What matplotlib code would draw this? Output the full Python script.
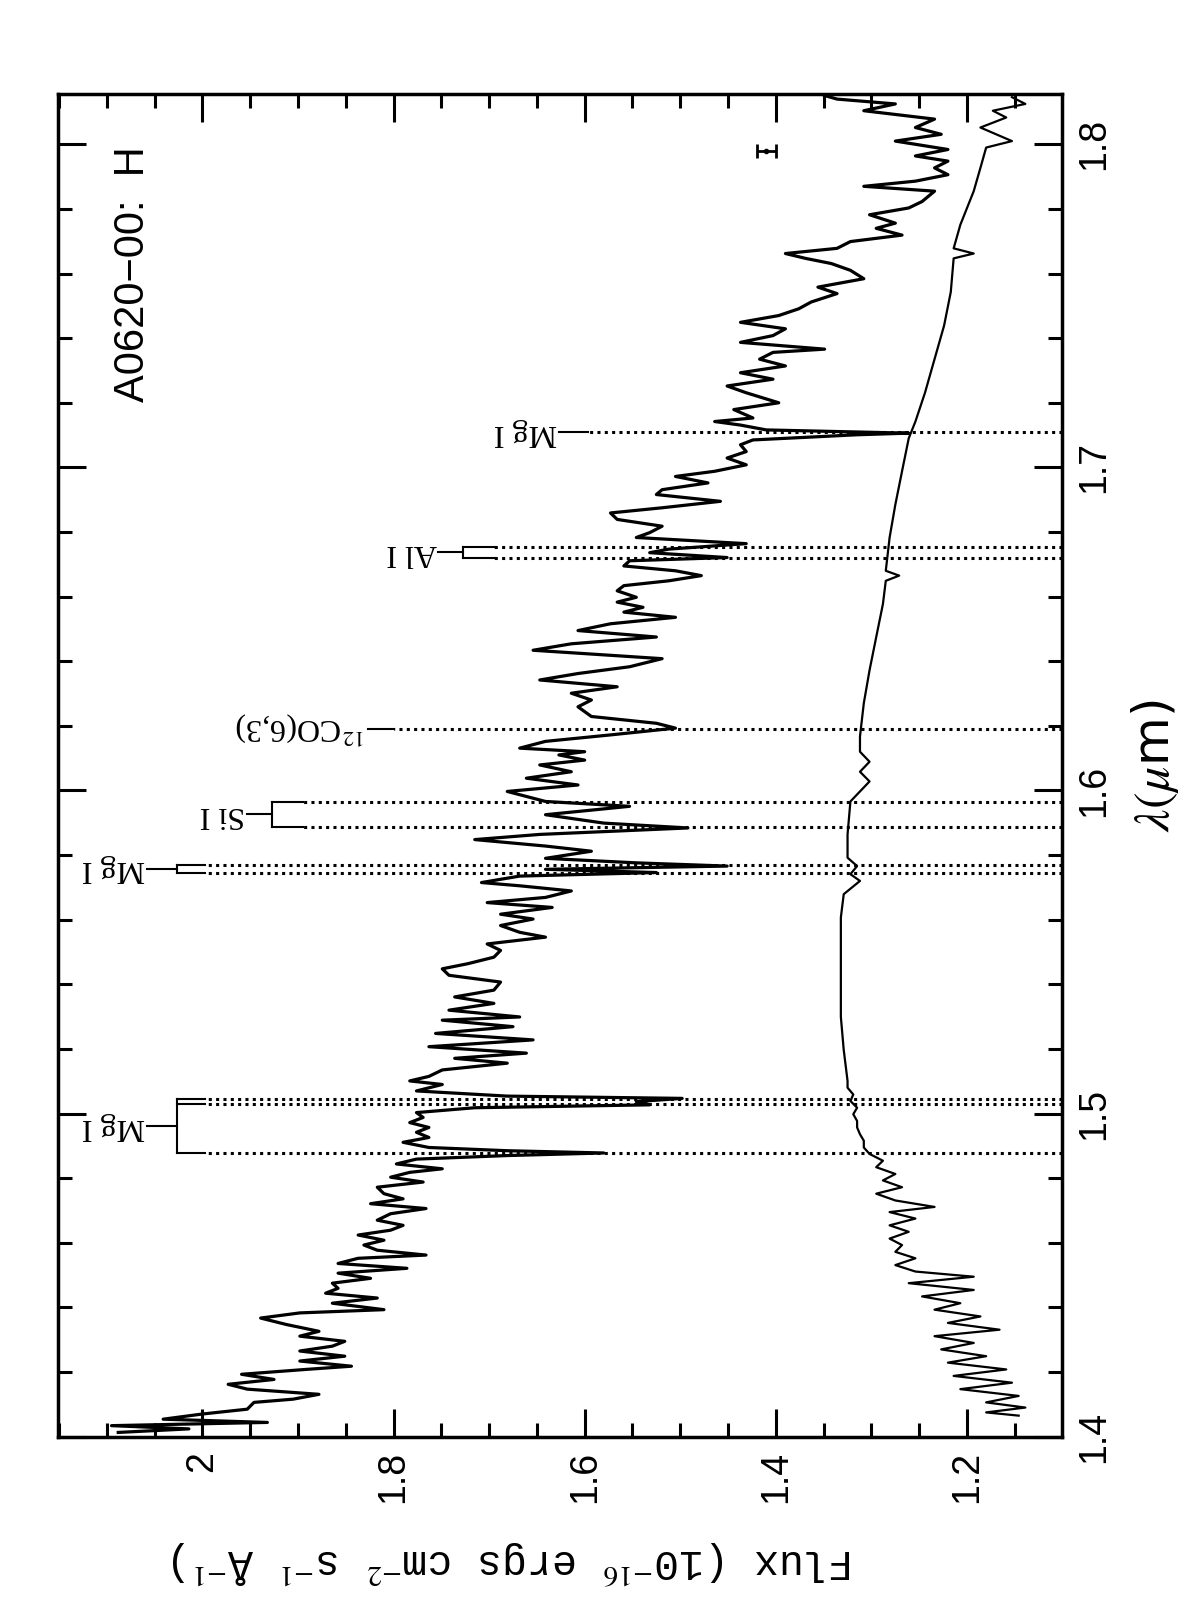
import matplotlib
matplotlib.use("Agg")
import matplotlib.pyplot as plt
from matplotlib.ticker import MultipleLocator

# upper spectrum (wavelength in micron, flux)
wl_hi = [1.4013, 1.4024, 1.4034, 1.4044, 1.4054, 1.4070, 1.4085, 1.4106, 1.4116, 1.4131,
         1.4147, 1.4162, 1.4177, 1.4193, 1.4208, 1.4218, 1.4234, 1.4249, 1.4265, 1.4280,
         1.4295, 1.4311, 1.4326, 1.4347, 1.4367, 1.4383, 1.4393, 1.4413, 1.4429, 1.4444,
         1.4459, 1.4475, 1.4490, 1.4506, 1.4521, 1.4536, 1.4552, 1.4562, 1.4577, 1.4593,
         1.4608, 1.4624, 1.4639, 1.4654, 1.4670, 1.4690, 1.4706, 1.4721, 1.4736, 1.4752,
         1.4772, 1.4788, 1.4803, 1.4818, 1.4829, 1.4844, 1.4859, 1.4870, 1.4878, 1.4885,
         1.4895, 1.4911, 1.4926, 1.4942, 1.4957, 1.4972, 1.4988, 1.5003, 1.5018, 1.5027,
         1.5037, 1.5047, 1.5054, 1.5070, 1.5090, 1.5101,
         1.5115, 1.5135, 1.5156, 1.5171, 1.5187, 1.5207, 1.5228, 1.5248, 1.5269, 1.5289,
         1.5299, 1.5320, 1.5341, 1.5361, 1.5382, 1.5407, 1.5428, 1.5448, 1.5464, 1.5484,
         1.5505, 1.5525, 1.5546, 1.5561, 1.5582, 1.5602, 1.5617, 1.5638, 1.5653, 1.5669,
         1.5689, 1.5705, 1.5715, 1.5735, 1.5746, 1.5756, 1.5766, 1.5776, 1.5790, 1.5812,
         1.5828, 1.5848, 1.5864, 1.5884, 1.5899, 1.5925, 1.5951, 1.5966, 1.5997, 1.6017,
         1.6038, 1.6058, 1.6079, 1.6094, 1.6110, 1.6120,
         1.6131, 1.6152, 1.6172, 1.6193, 1.6208, 1.6229, 1.6259, 1.6280, 1.6301, 1.6321,
         1.6342, 1.6362, 1.6383, 1.6408, 1.6434, 1.6454, 1.6475, 1.6495, 1.6516, 1.6536,
         1.6552, 1.6567, 1.6583, 1.6598, 1.6618, 1.6634, 1.6649, 1.6665, 1.6680, 1.6695,
         1.6711, 1.6721, 1.6736, 1.6747, 1.6764, 1.6783, 1.6798, 1.6818, 1.6839, 1.6859,
         1.6875, 1.6895, 1.6916, 1.6931, 1.6952, 1.6972, 1.6988, 1.7008, 1.7029, 1.7049,
         1.7070, 1.7085, 1.7101, 1.7106, 1.7116, 1.7131, 1.7142,
         1.7153, 1.7179, 1.7200, 1.7231, 1.7252, 1.7273, 1.7293, 1.7314, 1.7335, 1.7356,
         1.7366, 1.7387, 1.7408, 1.7429, 1.7449, 1.7470, 1.7491, 1.7512, 1.7538, 1.7558,
         1.7584, 1.7610, 1.7631, 1.7647, 1.7662, 1.7678, 1.7699, 1.7719, 1.7740, 1.7756,
         1.7782, 1.7803, 1.7823, 1.7855, 1.7870, 1.7886, 1.7906, 1.7927, 1.7948, 1.7964,
         1.7984, 1.8010, 1.8031, 1.8052, 1.8078, 1.8104, 1.8125, 1.8140, 1.8151]
fx_hi = [2.088, 2.014, 2.095, 1.932, 2.041, 2.000, 1.953, 1.946, 1.905, 1.878,
         1.953, 1.973, 1.925, 1.959, 1.892, 1.844, 1.898, 1.851, 1.898, 1.864,
         1.851, 1.898, 1.878, 1.912, 1.939, 1.898, 1.810, 1.864, 1.817, 1.871,
         1.858, 1.864, 1.824, 1.858, 1.786, 1.858, 1.837, 1.766, 1.817, 1.831,
         1.810, 1.837, 1.803, 1.790, 1.817, 1.803, 1.766, 1.824, 1.790, 1.810,
         1.817, 1.769, 1.803, 1.783, 1.749, 1.797, 1.776, 1.681, 1.580, 1.681,
         1.763, 1.790, 1.763, 1.776, 1.763, 1.783, 1.769, 1.776, 1.715, 1.532,
         1.546, 1.498, 1.681, 1.776, 1.749, 1.783,
         1.763, 1.749, 1.681, 1.736, 1.661, 1.763, 1.654, 1.756, 1.675, 1.749,
         1.668, 1.742, 1.695, 1.736, 1.695, 1.688, 1.742, 1.749, 1.722, 1.695,
         1.688, 1.702, 1.641, 1.668, 1.688, 1.654, 1.688, 1.634, 1.702, 1.641,
         1.614, 1.668, 1.708, 1.668, 1.525, 1.641, 1.451, 1.546, 1.641, 1.593,
         1.641, 1.715, 1.647, 1.492, 1.580, 1.641, 1.553, 1.641, 1.681, 1.607,
         1.661, 1.614, 1.647, 1.600, 1.627, 1.600,
         1.668, 1.641, 1.573, 1.505, 1.525, 1.593, 1.607, 1.593, 1.614, 1.566,
         1.647, 1.607, 1.553, 1.519, 1.654, 1.614, 1.525, 1.607, 1.573, 1.505,
         1.559, 1.539, 1.566, 1.546, 1.566, 1.559, 1.512, 1.478, 1.505, 1.559,
         1.553, 1.451, 1.532, 1.512, 1.431, 1.546, 1.532, 1.519, 1.566, 1.573,
         1.519, 1.458, 1.525, 1.519, 1.471, 1.505, 1.464, 1.431, 1.451, 1.431,
         1.437, 1.424, 1.315, 1.261, 1.410, 1.437, 1.464,
         1.424, 1.444, 1.397, 1.431, 1.451, 1.403, 1.437, 1.390, 1.417, 1.403,
         1.349, 1.437, 1.403, 1.390, 1.437, 1.397, 1.376, 1.363, 1.336, 1.356,
         1.308, 1.322, 1.342, 1.369, 1.390, 1.336, 1.322, 1.268, 1.295, 1.275,
         1.302, 1.261, 1.247, 1.234, 1.308, 1.254, 1.220, 1.234, 1.220, 1.254,
         1.220, 1.275, 1.227, 1.254, 1.234, 1.308, 1.275, 1.336, 1.349]

# lower spectrum
wl_lo = [1.4065, 1.4075, 1.4090, 1.4106, 1.4126, 1.4147, 1.4167, 1.4188, 1.4208, 1.4229,
         1.4249, 1.4270, 1.4290, 1.4311, 1.4331, 1.4352, 1.4372, 1.4393, 1.4413, 1.4434,
         1.4454, 1.4475, 1.4495, 1.4511, 1.4531, 1.4552, 1.4572, 1.4593, 1.4613, 1.4634,
         1.4654, 1.4675, 1.4695, 1.4711, 1.4731, 1.4752, 1.4772, 1.4793, 1.4813, 1.4834,
         1.4854, 1.4875, 1.4895, 1.4916, 1.4936, 1.4957, 1.4977, 1.4998, 1.5018, 1.5039,
         1.5059, 1.5080, 1.5101,
         1.5197, 1.5299, 1.5402, 1.5505, 1.5607, 1.5679, 1.5720, 1.5741, 1.5766, 1.5792,
         1.5864, 1.5966, 1.5997, 1.6028, 1.6058, 1.6089, 1.6120,
         1.6167, 1.6270, 1.6372, 1.6475, 1.6577, 1.6649, 1.6665, 1.6680, 1.6783, 1.6885,
         1.6988, 1.7090, 1.7142,
         1.7231, 1.7335, 1.7439, 1.7543, 1.7647, 1.7662, 1.7678, 1.7751, 1.7855, 1.7927,
         1.7990, 1.8010, 1.8052, 1.8083, 1.8104, 1.8125, 1.8146]
fx_lo = [1.146, 1.180, 1.139, 1.180, 1.146, 1.207, 1.153, 1.214, 1.159, 1.220,
         1.180, 1.227, 1.193, 1.234, 1.166, 1.220, 1.186, 1.234, 1.207, 1.247,
         1.193, 1.261, 1.193, 1.254, 1.275, 1.254, 1.275, 1.268, 1.281, 1.261,
         1.281, 1.254, 1.281, 1.234, 1.275, 1.295, 1.268, 1.288, 1.275, 1.295,
         1.288, 1.302, 1.308, 1.308, 1.312, 1.315, 1.315, 1.319, 1.315, 1.322,
         1.319, 1.325, 1.325,
         1.329, 1.332, 1.332, 1.332, 1.332, 1.329, 1.312, 1.322, 1.315, 1.325,
         1.325, 1.322, 1.312, 1.302, 1.312, 1.302, 1.312,
         1.312, 1.308, 1.302, 1.295, 1.288, 1.285, 1.271, 1.285, 1.281, 1.275,
         1.268, 1.261, 1.254,
         1.244, 1.234, 1.224, 1.217, 1.214, 1.193, 1.214, 1.207, 1.193, 1.186,
         1.180, 1.153, 1.186, 1.159, 1.173, 1.139, 1.153]

# identified lines
line_labels = ["Mg I", "Mg I", "Si I", r"$^{12}$CO(6,3)", "Al I", "Mg I"]
line_waves = [[1.4877, 1.5029, 1.5044], [1.5745, 1.5770], [1.5888, 1.5964],
              [1.6189], [1.6719, 1.6755], [1.7109]]

plt.rcParams["mathtext.fontset"] = "stix"

fig = plt.figure(figsize=(11.96, 16), dpi=100)
ax = fig.add_axes([0.0485, 0.1019, 0.8395, 0.8394])

ax.plot(fx_hi, wl_hi, color="black", lw=2.3)
ax.plot(fx_lo, wl_lo, color="black", lw=1.6)

# dotted start, bracket, connector end (flux units)
marks = [(1.997, 2.027, 2.058), (1.997, 2.027, 2.058), (1.895, 1.927, 1.953),
         (1.800, None, 1.827), (1.695, 1.727, 1.753), (1.597, None, 1.627)]
for lab, waves, (f0, fb, fc) in zip(line_labels, line_waves, marks):
    for w in waves:
        ax.plot([1.1006, f0], [w, w], color="black", lw=2.2, ls=(0, (1.0, 1.4)))
    if fb is None:
        mid = waves[0]
        ax.plot([f0, fc], [mid, mid], color="black", lw=1.5)
    else:
        for w in waves:
            ax.plot([f0, fb], [w, w], color="black", lw=1.5)
        ax.plot([fb, fb], [min(waves), max(waves)], color="black", lw=1.5)
        mid = 0.5 * (min(waves) + max(waves))
        ax.plot([fb, fc], [mid, mid], color="black", lw=1.5)
    ax.text(fc + 0.002, mid, lab, rotation=180, ha="right", va="center",
            family="Liberation Serif", fontsize=23)

# typical error bar
ax.errorbar([1.410], [1.798], xerr=[0.01], color="black", lw=2, capsize=5, capthick=2,
            fmt="o", ms=3)

ax.text(2.073, 1.7995, "A0620\u221200:  H", rotation=90, ha="center", va="top",
        family="Liberation Sans", fontsize=30)

ax.set_xlim(2.151, 1.1006)
ax.set_ylim(1.3999, 1.8156)
ax.xaxis.set_major_locator(MultipleLocator(0.2))
ax.xaxis.set_minor_locator(MultipleLocator(0.05))
ax.yaxis.set_major_locator(MultipleLocator(0.1))
ax.yaxis.set_minor_locator(MultipleLocator(0.02))
ax.tick_params(which="both", direction="in", top=True, right=True, left=True, bottom=True,
               width=2.2, labelleft=False, labelright=True)
ax.tick_params(which="major", length=20, labelsize=27, pad=10)
ax.tick_params(which="minor", length=10)
ax.set_xticks([2.0, 1.8, 1.6, 1.4, 1.2])
ax.set_xticklabels(["2", "1.8", "1.6", "1.4", "1.2"], rotation=90, family="Liberation Sans")
ax.set_yticks([1.4, 1.5, 1.6, 1.7, 1.8])
ax.set_yticklabels(["1.4", "1.5", "1.6", "1.7", "1.8"], rotation=90, va="center",
                   family="Liberation Sans")
for s in ax.spines.values():
    s.set_linewidth(2.5)

ax.yaxis.set_label_position("right")
ax.set_ylabel(r"$\lambda(\mu$m)", rotation=90, fontsize=36, family="DejaVu Sans", labelpad=12)
ax.set_xlabel("Flux (10$^{-16}$ ergs cm$^{-2}$ s$^{-1}$ \u00c5$^{-1}$)", rotation=180,
              fontsize=30, family="Liberation Mono", labelpad=14)
ax.xaxis.set_label_coords(0.453, -0.075)

fig.savefig("out.png", dpi=100)
